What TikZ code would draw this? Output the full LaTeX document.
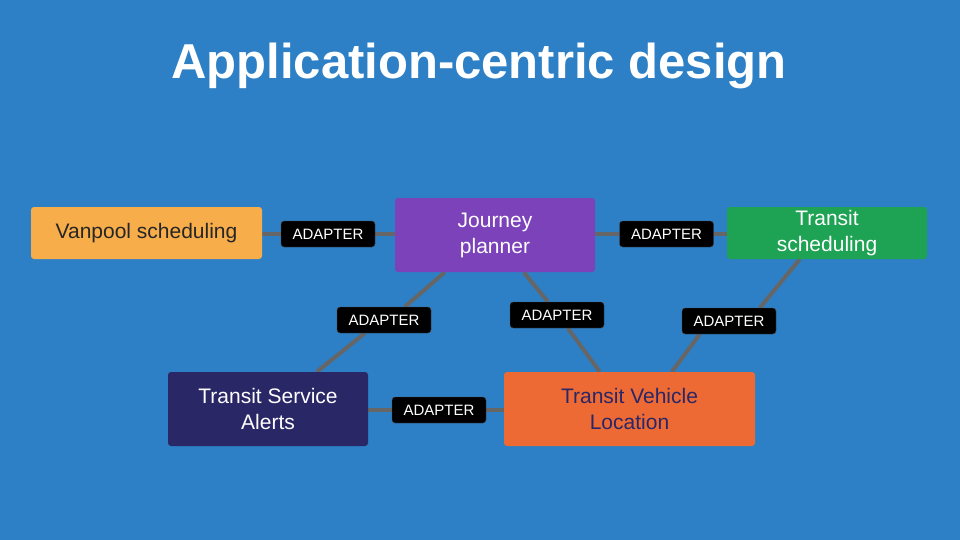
\documentclass[tikz,border=0pt]{standalone}
\usepackage{fontspec}
\setmainfont{Liberation Sans}
\usetikzlibrary{calc,backgrounds}
\definecolor{bg}{HTML}{2D80C6}
\definecolor{van}{HTML}{F8AD4B}
\definecolor{jp}{HTML}{7B42B9}
\definecolor{ts}{HTML}{1EA253}
\definecolor{tsa}{HTML}{2A2766}
\definecolor{tvl}{HTML}{EE6A35}
\definecolor{ln}{HTML}{666666}
\begin{document}
\begin{tikzpicture}[x=1pt,y=-1pt,
 box/.style={rounded corners=3pt,inner sep=0pt,align=center,font=\fontsize{21}{26}\selectfont,text=white},
 ad/.style={fill=black,draw=black!70,rounded corners=3pt,minimum width=94pt,minimum height=26pt,inner sep=0pt,text=white,font=\fontsize{15}{16}\selectfont},
 conn/.style={draw=ln,line width=4pt}]
\node[text=white,font=\bfseries\fontsize{49}{54}\selectfont] (title) at (479,66) {Application-centric design};
\node[box,fill=van,text=black!85,minimum width=231pt,minimum height=52pt] (van) at (146.5,233) {Vanpool scheduling};
\node[box,fill=jp,minimum width=200pt,minimum height=74pt] (jp) at (495,235) {Journey\\planner};
\node[box,fill=ts,minimum width=200pt,minimum height=52pt] (ts) at (827,233) {Transit\\scheduling};
\node[box,fill=tsa,minimum width=200pt,minimum height=74pt] (tsa) at (268,409) {Transit Service\\Alerts};
\node[box,fill=tvl,text=tsa,minimum width=251pt,minimum height=74pt] (tvl) at (629.5,409) {Transit Vehicle\\Location};
\node[ad] (a1) at (328,234) {ADAPTER};
\node[ad] (a2) at (666.5,234) {ADAPTER};
\node[ad] (a3) at (384,320) {ADAPTER};
\node[ad] (a4) at (557,315) {ADAPTER};
\node[ad] (a5) at (729,321) {ADAPTER};
\node[ad] (a6) at (439,410) {ADAPTER};
\begin{scope}[on background layer]
\fill[bg] (0,0) rectangle (960,540);
\draw[conn] (van.east |- a1) -- (a1) -- (jp.west |- a1);
\draw[conn] (jp.east |- a2) -- (a2) -- (ts.west |- a2);
\draw[conn] (tsa.east |- a6) -- (a6) -- (tvl.west |- a6);
\draw[conn] ($(jp.south west)+(50,0)$) -- ($(a3.north west)+(68,0)$);
\draw[conn] ($(a3.south west)+(28,0)$) -- ($(tsa.north west)+(149,0)$);
\draw[conn] ($(jp.south west)+(129,0)$) -- ($(a4.north west)+(38,0)$);
\draw[conn] ($(a4.south west)+(58,0)$) -- ($(tvl.north west)+(96,0)$);
\draw[conn] ($(ts.south west)+(73,0)$) -- ($(a5.north west)+(78,0)$);
\draw[conn] ($(a5.south west)+(18,0)$) -- ($(tvl.north west)+(168,0)$);
\end{scope}
\end{tikzpicture}
\end{document}
